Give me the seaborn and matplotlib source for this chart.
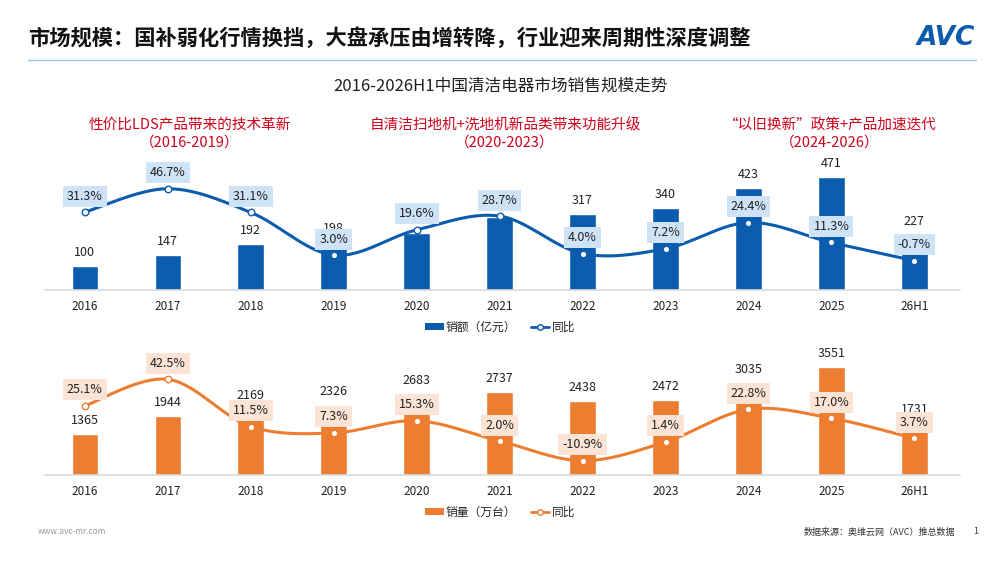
import matplotlib
matplotlib.use('Agg')
import matplotlib.pyplot as plt
from matplotlib.lines import Line2D
from matplotlib.patches import Patch
import numpy as np
import pandas as pd
import seaborn as sns

# 数据
years = ['2016', '2017', '2018', '2019', '2020', '2021', '2022', '2023', '2024', '2025', '26H1']
sales_amt = [100, 147, 192, 198, 237, 305, 317, 340, 423, 471, 227]          # 销额（亿元）
amt_yoy = [31.3, 46.7, 31.1, 3.0, 19.6, 28.7, 4.0, 7.2, 24.4, 11.3, -0.7]     # 同比 %
sales_vol = [1365, 1944, 2169, 2326, 2683, 2737, 2438, 2472, 3035, 3551, 1731]  # 销量（万台）
vol_yoy = [25.1, 42.5, 11.5, 7.3, 15.3, 2.0, -10.9, 1.4, 22.8, 17.0, 3.7]     # 同比 %

stage_titles = ['性价比LDS产品带来的技术革新', '自清洁扫地机+洗地机新品类带来功能升级', '“以旧换新”政策+产品加速迭代']
stage_years = ['（2016-2019）', '（2020-2023）', '（2024-2026）']

BLUE = '#0b5cad'
BLUE_BOX = '#cfe3f7'
ORANGE = '#ed7d31'
ORANGE_BOX = '#fbe4d5'
RED = '#d0021b'
TXT = '#222222'

sns.set_theme(style='white')
plt.rcParams['font.family'] = ['Noto Sans CJK SC', 'DejaVu Sans']
plt.rcParams['axes.unicode_minus'] = False


# 类似Excel平滑线的曲线 (Catmull-Rom -> Bezier)
def smooth_curve(xv, yv, n=30):
    p = np.column_stack([xv, yv]).astype(float)
    pts = np.vstack([p[0], p, p[-1]])
    out = []
    for i in range(1, len(pts) - 2):
        p0, p1, p2, p3 = pts[i - 1], pts[i], pts[i + 1], pts[i + 2]
        c1 = p1 + (p2 - p0) / 6
        c2 = p2 - (p3 - p1) / 6
        t = np.linspace(0, 1, n)[:, None]
        seg = (1 - t) ** 3 * p1 + 3 * (1 - t) ** 2 * t * c1 + 3 * (1 - t) * t ** 2 * c2 + t ** 3 * p2
        out.append(seg if i == 1 else seg[1:])
    out = np.vstack(out)
    return out[:, 0], out[:, 1]


def draw_panel(rect, values, yoy, bar_color, box_color, ylim_bar, ylim_line):
    ax = fig.add_axes(rect)
    df = pd.DataFrame({'year': years, 'val': values})
    sns.barplot(data=df, x='year', y='val', color=bar_color, width=0.32,
                saturation=1, ax=ax, zorder=2)
    ax.set_ylim(*ylim_bar)
    ax.set_xlim(-0.48, 10.55)
    ax.set_xlabel('')
    ax.set_ylabel('')
    ax.set_yticks([])
    for s in ['top', 'right', 'left']:
        ax.spines[s].set_visible(False)
    ax.spines['bottom'].set_color('#d9d9d9')
    ax.spines['bottom'].set_linewidth(1.2)
    ax.tick_params(axis='x', length=0, pad=7, labelsize=8.5, labelcolor=TXT)
    for i, v in enumerate(values):
        ax.annotate(str(v), (i, v), xytext=(0, 5), textcoords='offset points',
                    ha='center', va='bottom', fontsize=9, color=TXT)

    ax2 = ax.twinx()
    ax2.set_ylim(*ylim_line)
    ax2.set_xlim(-0.48, 10.55)
    ax2.set_yticks([])
    for s in ax2.spines.values():
        s.set_visible(False)
    xs, ys = smooth_curve(np.arange(len(yoy)), yoy)
    sns.lineplot(x=xs, y=ys, sort=False, color=bar_color, linewidth=2.2, ax=ax2, zorder=3)
    sns.scatterplot(x=np.arange(len(yoy)), y=yoy, color='white', edgecolor=bar_color,
                    linewidth=1, s=22, ax=ax2, zorder=4)
    for i, v in enumerate(yoy):
        ax2.annotate(f'{v:.1f}%', (i, v), xytext=(0, 11.5), textcoords='offset points',
                     ha='center', va='center', fontsize=9, color=TXT, zorder=6,
                     bbox=dict(boxstyle='square,pad=0.32', fc=box_color, ec='none'))
    ax2.set_ylabel('')
    return ax, ax2


fig = plt.figure(figsize=(10, 5.62), dpi=100)

# 标题
fig.text(0.028, 1 - 38 / 562, '市场规模：国补弱化行情换挡，大盘承压由增转降，行业迎来周期性深度调整',
         fontsize=15.3, fontweight='bold', color='#111111', ha='left', va='center')
fig.add_artist(Line2D([0.028, 0.976], [1 - 60 / 562] * 2, color='#9dc3e6', lw=1))
fig.text(0.975, 1 - 38 / 562, 'AVC', fontsize=19, fontweight='bold', fontstyle='italic',
         color=BLUE, ha='right', va='center', family=['DejaVu Sans'])
fig.text(0.5, 1 - 86 / 562, '2016-2026H1中国清洁电器市场销售规模走势', fontsize=12,
         color=TXT, ha='center', va='center')

# 阶段说明
for cx, t1, t2 in zip([0.19, 0.505, 0.83], stage_titles, stage_years):
    fig.text(cx, 1 - 125 / 562, t1, fontsize=10.5, color=RED, ha='center', va='center')
    fig.text(cx, 1 - 143 / 562, t2, fontsize=10.5, color=RED, ha='center', va='center')

# 上图：销额
draw_panel([0.045, 272 / 562, 0.915, 140 / 562], sales_amt, amt_yoy, BLUE, BLUE_BOX,
           (0, 581), (-20, 72.2))
# 下图：销量
draw_panel([0.045, 87 / 562, 0.915, 135 / 562], sales_vol, vol_yoy, ORANGE, ORANGE_BOX,
           (0, 4455), (-20.3, 68.3))

# 图例
for y, label, col in [(327, '销额（亿元）', BLUE), (512, '销量（万台）', ORANGE)]:
    handles = [Patch(facecolor=col, edgecolor='none'),
               Line2D([0], [0], color=col, lw=2, marker='o', markerfacecolor='white',
                      markeredgecolor=col, markersize=4)]
    fig.legend(handles, [label, '同比'], loc='center', bbox_to_anchor=(0.5, 1 - y / 562),
               ncol=2, frameon=False, fontsize=8.5, handlelength=1.6, handleheight=0.6,
               handletextpad=0.2, columnspacing=1.2)

# 页脚
fig.text(0.038, 1 - 532 / 562, 'www.avc-mr.com', fontsize=6, color='#999999', ha='left', va='center')
fig.text(0.955, 1 - 532 / 562, '数据来源：奥维云网（AVC）推总数据', fontsize=6.5, color='#333333',
         ha='right', va='center')
fig.text(0.976, 1 - 532 / 562, '1', fontsize=6.5, color='#333333', ha='center', va='center')

fig.savefig('out.png', dpi=100)
